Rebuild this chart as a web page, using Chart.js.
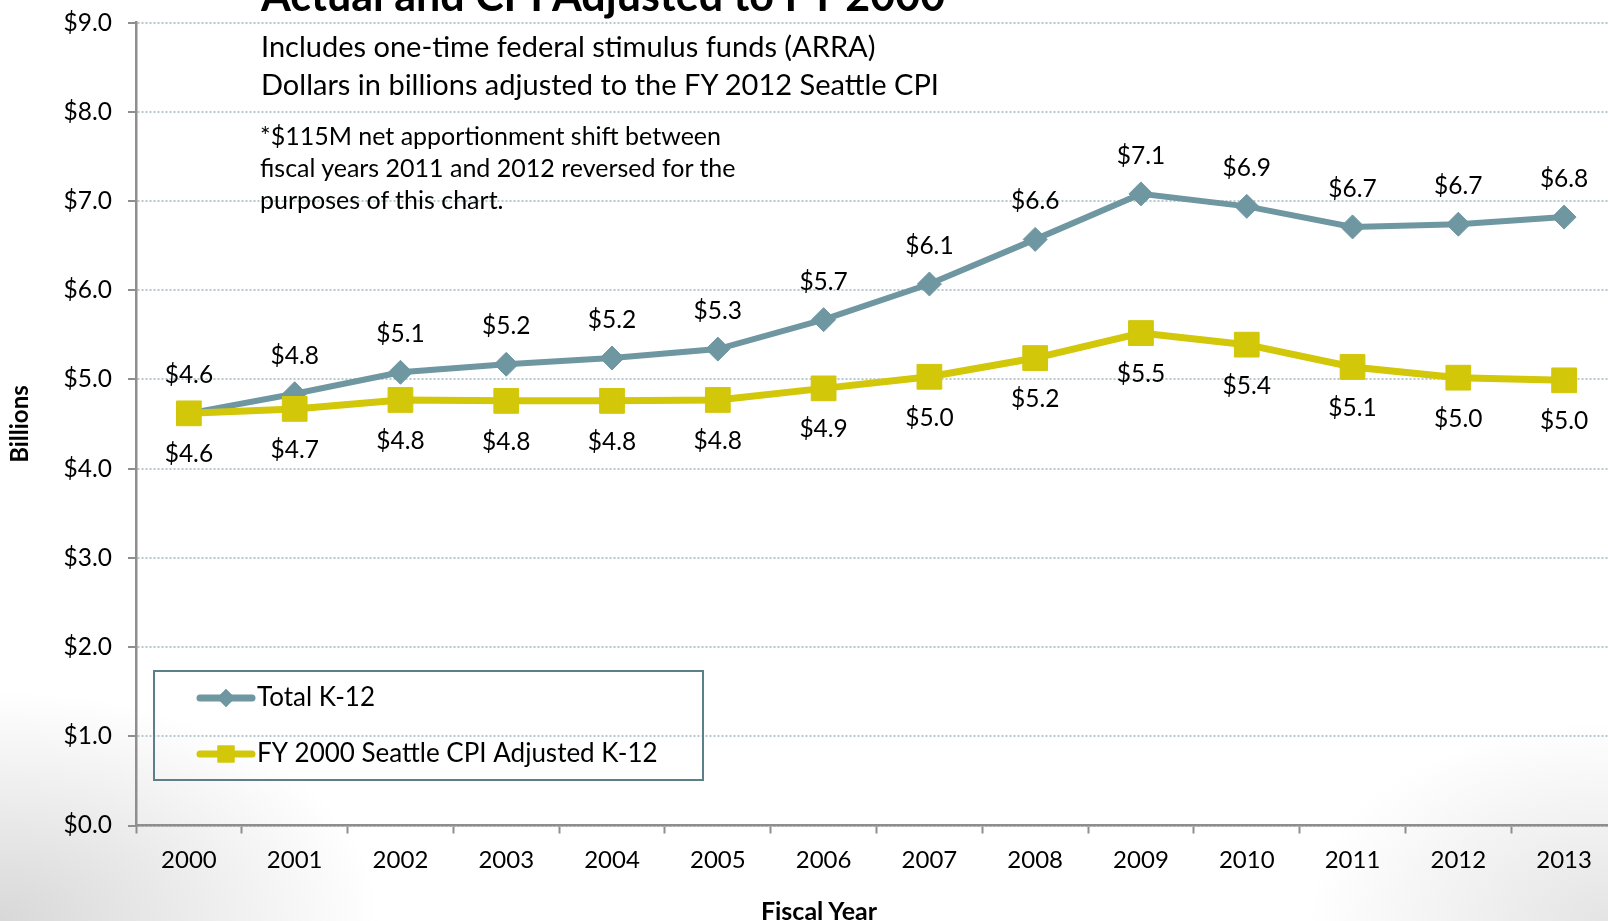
<!DOCTYPE html>
<html>
<head>
<meta charset="utf-8">
<script src="https://cdn.jsdelivr.net/npm/chart.js@4/dist/chart.umd.min.js"></script>
<style>
    html, body {
        margin: 0;
        padding: 0;
        width: 1608px;
        height: 921px;
        overflow: hidden;
        font-family: Lato, 'Open Sans', sans-serif;
        background:
            radial-gradient(ellipse 380px 230px at 0% 100%, #d8d8d8 0%, rgba(255,255,255,0) 100%),
            radial-gradient(ellipse 300px 200px at 100% 100%, #e4e4e4 0%, rgba(255,255,255,0) 100%),
            #ffffff;
    }
    .wrap {
        position: absolute;
        left: 0;
        top: 0;
        width: 1620px;
        height: 921px;
    }
    .txt {
        position: absolute;
        white-space: nowrap;
        color: #000;
        line-height: 1;
        transform: translateY(-50%);
    }
</style>
</head>
<body>
<div class="wrap"><canvas id="fundingChart"></canvas></div>

<div class="txt" style="left:261px; top:-6px; font-size:43px; font-weight:bold;">Actual and CPI Adjusted to FY 2000</div>
<div class="txt" style="left:261px; top:45px; font-size:29px;">Includes one-time federal stimulus funds (ARRA)</div>
<div class="txt" style="left:261px; top:83px; font-size:29px;">Dollars in billions adjusted to the FY 2012 Seattle CPI</div>
<div class="txt" style="left:260px; top:135px; font-size:25px;">*$115M net apportionment shift between</div>
<div class="txt" style="left:260px; top:167px; font-size:25px;">fiscal years 2011 and 2012 reversed for the</div>
<div class="txt" style="left:260px; top:199px; font-size:25px;">purposes of this chart.</div>
<div class="txt" style="left:819px; top:910px; font-size:25px; font-weight:bold; transform:translate(-50%,-50%);">Fiscal Year</div>

<script>
// chart data
const years = ['2000', '2001', '2002', '2003', '2004', '2005', '2006',
               '2007', '2008', '2009', '2010', '2011', '2012', '2013'];
const totalK12 = [4.62, 4.84, 5.08, 5.17, 5.24, 5.34, 5.67, 6.07, 6.57, 7.08, 6.94, 6.71, 6.74, 6.82];
const cpiAdjustedK12 = [4.62, 4.67, 4.77, 4.76, 4.76, 4.77, 4.90, 5.03, 5.24, 5.52, 5.39, 5.14, 5.02, 4.99];
const yTicks = [0, 1, 2, 3, 4, 5, 6, 7, 8, 9];
const seriesNames = ['Total K-12', 'FY 2000 Seattle CPI Adjusted K-12'];

const tealColor = '#6f97a1';
const yellowColor = '#d2c708';
const axisColor = '#8e8e8e';
const fontFamily = 'Lato, "Open Sans", sans-serif';

const money = v => '$' + Number(v).toFixed(1);

// value labels above / below each point
const pointLabels = {
    id: 'pointLabels',
    afterDatasetsDraw(chart) {
        const ctx = chart.ctx;
        ctx.save();
        ctx.font = '24.5px ' + fontFamily;
        ctx.fillStyle = '#000';
        ctx.textAlign = 'center';
        ctx.textBaseline = 'middle';
        chart.data.datasets.forEach((ds, i) => {
            const meta = chart.getDatasetMeta(i);
            const offset = ds.labelOffset;
            meta.data.forEach((pt, j) => {
                ctx.fillText(money(ds.data[j]), pt.x, pt.y + offset);
            });
        });
        ctx.restore();
    }
};

// boxed legend inside the plot area
const boxLegend = {
    id: 'boxLegend',
    afterDraw(chart) {
        const ctx = chart.ctx;
        const box = { x: 154, y: 671, w: 549, h: 109 };
        ctx.save();
        ctx.strokeStyle = '#5c8089';
        ctx.lineWidth = 2;
        ctx.strokeRect(box.x, box.y, box.w, box.h);
        ctx.font = '26px ' + fontFamily;
        ctx.textBaseline = 'middle';
        chart.data.datasets.forEach((ds, i) => {
            const y = box.y + 27 + i * 56;
            ctx.strokeStyle = ds.borderColor;
            ctx.lineWidth = 7;
            ctx.lineCap = 'round';
            ctx.beginPath();
            ctx.moveTo(200, y);
            ctx.lineTo(252, y);
            ctx.stroke();
            ctx.fillStyle = ds.borderColor;
            Chart.helpers.drawPoint(ctx, {
                pointStyle: ds.pointStyle,
                radius: i === 0 ? 9 : 12,
                borderWidth: 0,
                rotation: 0
            }, 226, y);
            ctx.fill();
            ctx.fillStyle = '#000';
            ctx.fillText(ds.label, 257, y);
        });
        ctx.restore();
    }
};

const ctx = document.getElementById('fundingChart').getContext('2d');
new Chart(ctx, {
    type: 'line',
    data: {
        labels: years,
        datasets: [{
            label: seriesNames[0],
            data: totalK12,
            borderColor: tealColor,
            backgroundColor: tealColor,
            borderWidth: 6,
            pointStyle: 'rectRot',
            pointRadius: 12,
            pointBorderWidth: 1,
            pointHoverRadius: 12,
            tension: 0,
            labelOffset: -38,
            order: 1
        }, {
            label: seriesNames[1],
            data: cpiAdjustedK12,
            borderColor: yellowColor,
            backgroundColor: yellowColor,
            borderWidth: 7,
            pointStyle: 'rect',
            pointRadius: 17.5,
            pointBorderWidth: 1,
            pointHoverRadius: 17.5,
            tension: 0,
            labelOffset: 41,
            order: 0
        }]
    },
    options: {
        responsive: true,
        maintainAspectRatio: false,
        animation: false,
        layout: {
            autoPadding: false,
            padding: { top: 22.6, right: 3, left: 0, bottom: 0 }
        },
        plugins: {
            legend: { display: false },
            tooltip: { enabled: false }
        },
        scales: {
            x: {
                offset: true,
                afterFit: scale => { scale.height = 95.5; },
                border: { color: axisColor, width: 2.5 },
                grid: {
                    offset: true,
                    drawOnChartArea: false,
                    drawTicks: true,
                    tickLength: 8,
                    tickColor: axisColor,
                    tickWidth: 2
                },
                ticks: {
                    color: '#000',
                    padding: 12,
                    maxRotation: 0,
                    font: { family: fontFamily, size: 24 }
                },
                title: { display: false }
            },
            y: {
                min: 0,
                max: 9,
                afterFit: scale => {
                    scale.width = 136;
                    scale.paddingTop = 0;
                    scale.paddingBottom = 0;
                },
                afterBuildTicks: scale => {
                    scale.ticks = yTicks.map(v => ({ value: v }));
                },
                border: { color: axisColor, width: 2.5, dash: [2, 2] },
                grid: {
                    color: '#b9c8cc',
                    lineWidth: 2,
                    drawTicks: true,
                    tickLength: 8,
                    tickColor: axisColor,
                    tickWidth: 2,
                    tickBorderDash: [1, 0]
                },
                ticks: {
                    color: '#000',
                    padding: 16,
                    font: { family: fontFamily, size: 24.5 },
                    callback: v => money(v)
                },
                title: {
                    display: true,
                    text: 'Billions',
                    color: '#000',
                    padding: { top: 6, bottom: 0 },
                    font: { family: fontFamily, size: 24, weight: 'bold' }
                }
            }
        }
    },
    plugins: [pointLabels, boxLegend]
});
</script>
</body>
</html>
